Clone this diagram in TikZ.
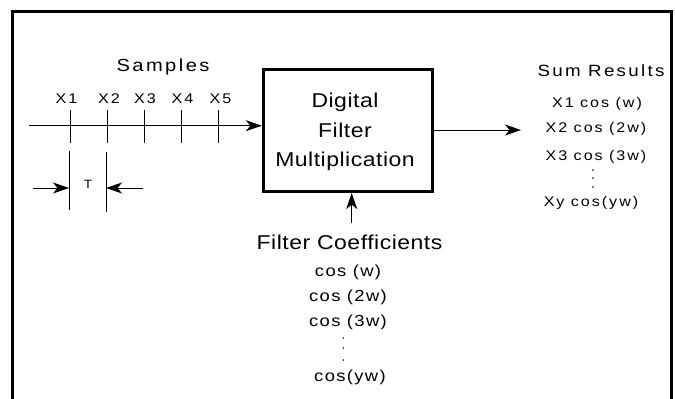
\documentclass[tikz,border=0pt]{standalone}
\usepackage{fontspec}
\setmainfont{Liberation Sans}
\newfontfamily\fsWide[FakeStretch=1.15,LetterSpace=14]{Liberation Sans}
\newfontfamily\fsMid[FakeStretch=1.15,LetterSpace=8.5]{Liberation Sans}
\newfontfamily\fsBox[FakeStretch=1.15,LetterSpace=2.5]{Liberation Sans}
\usetikzlibrary{arrows.meta}
\begin{document}
\begin{tikzpicture}[x=1pt,y=-1pt,
  tip/.style={-{Stealth[length=16pt,width=11pt,inset=4.5pt]}},
  thinline/.style={line width=1pt},
  txt/.style={inner sep=0pt, anchor=base},
  fSamples/.style={font=\fsWide\fontsize{17.5}{20}\selectfont},
  fLabel/.style={font=\fsWide\fontsize{14}{16}\selectfont},
  fBox/.style={font=\fsBox\fontsize{20}{24}\selectfont},
  fSum/.style={font=\fsWide\fontsize{16.3}{18}\selectfont},
  fCos/.style={font=\fsMid\fontsize{16}{18}\selectfont},
  fT/.style={font=\fsMid\fontsize{12}{14}\selectfont},
  dotmark/.style={fill=black},
  ]
\useasboundingbox (0,0) rectangle (675,399);
% frame
\draw[line width=3pt] (12.5,399) -- (12.5,11.3) -- (671,11.3) -- (671,399);

% main box
\node[draw, line width=2.7pt, minimum width=169pt, minimum height=122.4pt, inner sep=0pt] (box) at (347.7,130.5) {};
\node[txt,fBox] (dig) at (345,107.3) {Digital};
\node[txt,fBox] (fil) at (345,137.3) {Filter};
\node[txt,fBox] (mul) at (345,166.7) {Multiplication};

% samples
\node[txt,fSamples] (samples) at (163,71.7) {Samples};
\node[txt,fLabel] (x1) at (66.5,103) {X1};
\node[txt,fLabel] (x2) at (109,103) {X2};
\node[txt,fLabel] (x3) at (145,103) {X3};
\node[txt,fLabel] (x4) at (182.5,103) {X4};
\node[txt,fLabel] (x5) at (220.5,103) {X5};

\coordinate (in) at (29,125.7);
\draw[thinline,tip] (in) -- (in -| box.west);
\foreach \x in {70,107,144,181,218}
  \draw[thinline] (\x,110) -- (\x,143);

% T spacing
\coordinate (tL) at (69,188);
\coordinate (tR) at (106,188);
\draw[thinline] (69,151) -- (69,210);
\draw[thinline] (106,152) -- (106,212);
\coordinate (tLs) at (33,188);
\coordinate (tRs) at (143,188);
\draw[thinline,tip] (tLs) -- (tL);
\draw[thinline,tip] (tRs) -- (tR);
\node[fT,inner sep=0pt] (T) at (88,184) {T};

% output
\coordinate (out) at (521,130);
\draw[thinline,tip] (box.east |- out) -- (out);
\node[txt,fSum] (sum) at (601,76.7) {Sum Results};
\node[txt,fLabel] (r1) at (597,107.3) {X1 cos (w)};
\node[txt,fLabel] (r2) at (596,132.5) {X2 cos (2w)};
\node[txt,fLabel] (r3) at (596,160.5) {X3 cos (3w)};
\fill[dotmark] (593,170) circle (0.8);
\fill[dotmark] (593,178) circle (0.8);
\fill[dotmark] (593,187) circle (0.8);
\node[txt,fLabel] (ry) at (591,206.7) {Xy cos(yw)};

% coefficients
\coordinate (up) at (351.7,223);
\draw[thinline,tip] (up) -- (up |- box.south);
\node[txt,fBox] (fc) at (349.5,249.3) {Filter Coefficients};
\node[txt,fCos] (c1) at (348,276.7) {cos (w)};
\node[txt,fCos] (c2) at (348,301.5) {cos (2w)};
\node[txt,fCos] (c3) at (348,326.5) {cos (3w)};
\fill[dotmark] (343.3,338) circle (0.8);
\fill[dotmark] (343.3,348) circle (0.8);
\fill[dotmark] (343.3,360) circle (0.8);
\node[txt,fCos] (cy) at (350,381.5) {cos(yw)};
\end{tikzpicture}
\end{document}
